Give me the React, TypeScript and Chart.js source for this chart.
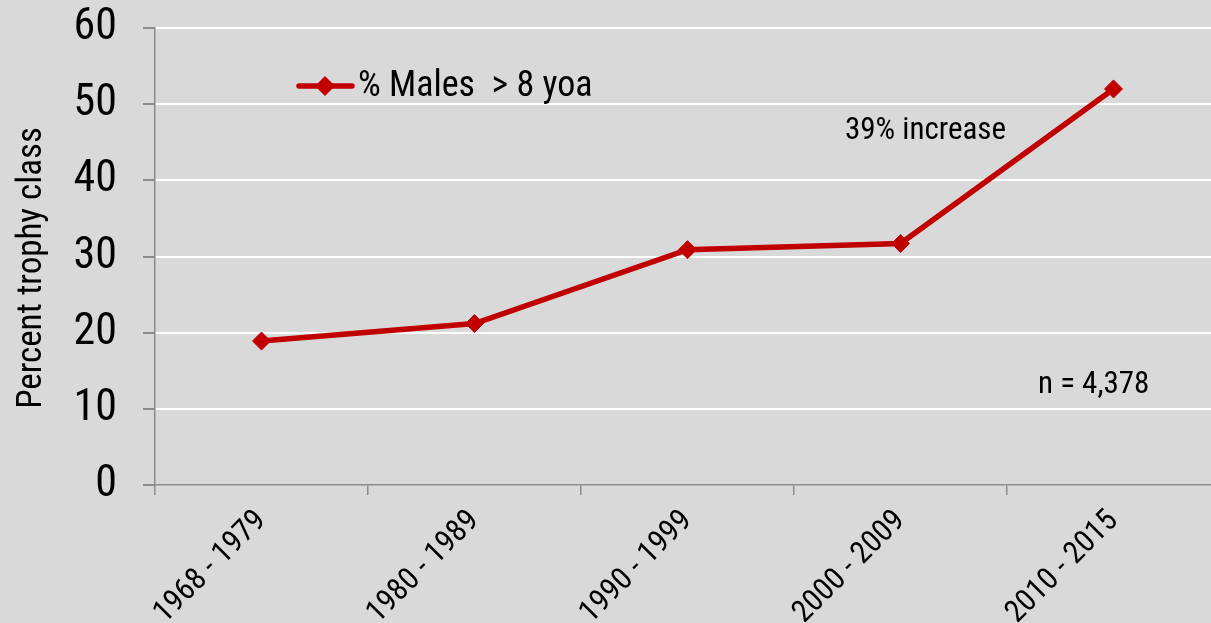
import React, { useEffect, useRef } from "react";
import { Chart, registerables } from "chart.js";

Chart.register(...registerables);

const categories = ["1968 - 1979", "1980 - 1989", "1990 - 1999", "2000 - 2009", "2010 - 2015"];
const malesOver8 = [18.9, 21.2, 30.9, 31.7, 52.0];
const seriesLabel = "% Males  > 8 yoa";
const yTicks = [0, 10, 20, 30, 40, 50, 60];
const annotationIncrease = "39% increase";
const annotationN = "n = 4,378";
const yTitle = "Percent trophy class";

const FONT = '"Roboto Condensed", "Liberation Sans Narrow", "Arial Narrow", Roboto, sans-serif';
const STRETCH = "condensed";
const RED = "#c00000";
const BG = "#d9d9d9";
const AXIS = "#8c8c8c";

const bgPlugin = {
  id: "bg",
  beforeDraw(chart: any) {
    const { ctx, width, height } = chart;
    ctx.save();
    ctx.fillStyle = BG;
    ctx.fillRect(0, 0, width, height);
    ctx.restore();
  },
};

const overlayPlugin = {
  id: "overlay",
  afterDraw(chart: any) {
    const { ctx } = chart;
    ctx.save();
    // y-axis title
    ctx.save();
    ctx.translate(41, 268);
    ctx.rotate(-Math.PI / 2);
    ctx.fillStyle = "#000";
    ctx.textAlign = "center";
    ctx.textBaseline = "alphabetic";
    ctx.font = `${STRETCH} 35px ${FONT}`;
    ctx.fillText(yTitle, 0, 0);
    ctx.restore();
    // legend
    const ly = 86;
    ctx.strokeStyle = RED;
    ctx.lineWidth = 5.5;
    ctx.lineCap = "round";
    ctx.beginPath();
    ctx.moveTo(299, ly);
    ctx.lineTo(352, ly);
    ctx.stroke();
    ctx.fillStyle = RED;
    ctx.beginPath();
    const cx = 325, r = 10;
    ctx.moveTo(cx, ly - r);
    ctx.lineTo(cx + r, ly);
    ctx.lineTo(cx, ly + r);
    ctx.lineTo(cx - r, ly);
    ctx.closePath();
    ctx.fill();
    ctx.fillStyle = "#000";
    ctx.textBaseline = "middle";
    ctx.textAlign = "left";
    ctx.font = `${STRETCH} 36px ${FONT}`;
    ctx.fillText(seriesLabel, 358, ly + 1);
    // annotations
    ctx.font = `${STRETCH} 31px ${FONT}`;
    ctx.fillText(annotationIncrease, 845, 131);
    ctx.fillText(annotationN, 1038, 385);
    ctx.restore();
  },
};

export default function App() {
  const ref = useRef<HTMLCanvasElement | null>(null);
  useEffect(() => {
    if (!ref.current) return;
    const chart = new Chart(ref.current, {
      type: "line",
      data: {
        labels: categories,
        datasets: [
          {
            label: seriesLabel,
            data: malesOver8,
            borderColor: RED,
            backgroundColor: RED,
            borderWidth: 5.5,
            pointStyle: "rectRot",
            pointRadius: 9,
            pointHoverRadius: 9,
            pointBackgroundColor: RED,
            pointBorderColor: RED,
            pointBorderWidth: 1,
            tension: 0,
          },
        ],
      },
      options: {
        animation: false,
        responsive: false,
        maintainAspectRatio: false,
        layout: { padding: { top: 28, right: 0, bottom: 0, left: 0 } },
        plugins: {
          legend: { display: false },
          tooltip: { enabled: false },
        },
        scales: {
          x: {
            type: "category",
            offset: true,
            grid: {
              offset: true,
              drawOnChartArea: false,
              drawTicks: true,
              tickLength: 10,
              color: AXIS,
              lineWidth: 1.5,
            },
            border: { display: true, color: AXIS, width: 1.5 },
            ticks: {
              maxRotation: 45,
              minRotation: 45,
              padding: 8,
              color: "#000",
              font: { family: FONT, size: 31, style: STRETCH },
              autoSkip: false,
            },
            afterFit(scale: any) {
              scale.height = 138;
              scale.paddingLeft = 0;
              scale.paddingRight = 0;
            },
          },
          y: {
            min: 0,
            max: 60,
            afterBuildTicks(scale: any) {
              scale.ticks = yTicks.map((v) => ({ value: v }));
            },
            grid: {
              color: (c: any) => (c.tick && c.tick.value === 0 ? "rgba(0,0,0,0)" : "#ffffff"),
              tickColor: AXIS,
              lineWidth: 2,
              drawTicks: true,
              tickLength: 12,
            },
            border: { display: true, color: AXIS, width: 1.5 },
            ticks: {
              padding: 26,
              color: "#000",
              font: { family: FONT, size: 44, style: STRETCH },
            },
            title: { display: false },
            afterFit(scale: any) {
              scale.width = 155;
              scale.paddingTop = 0;
              scale.paddingBottom = 0;
            },
          },
        },
      },
      plugins: [bgPlugin, overlayPlugin],
    } as any);
    return () => chart.destroy();
  }, []);
  return (
    <div style={{ position: "fixed", left: 0, top: 0, width: 1211, height: 623, overflow: "hidden", background: BG }}>
      <canvas ref={ref} width={1230} height={623} style={{ width: 1230, height: 623, display: "block" }} />
    </div>
  );
}
